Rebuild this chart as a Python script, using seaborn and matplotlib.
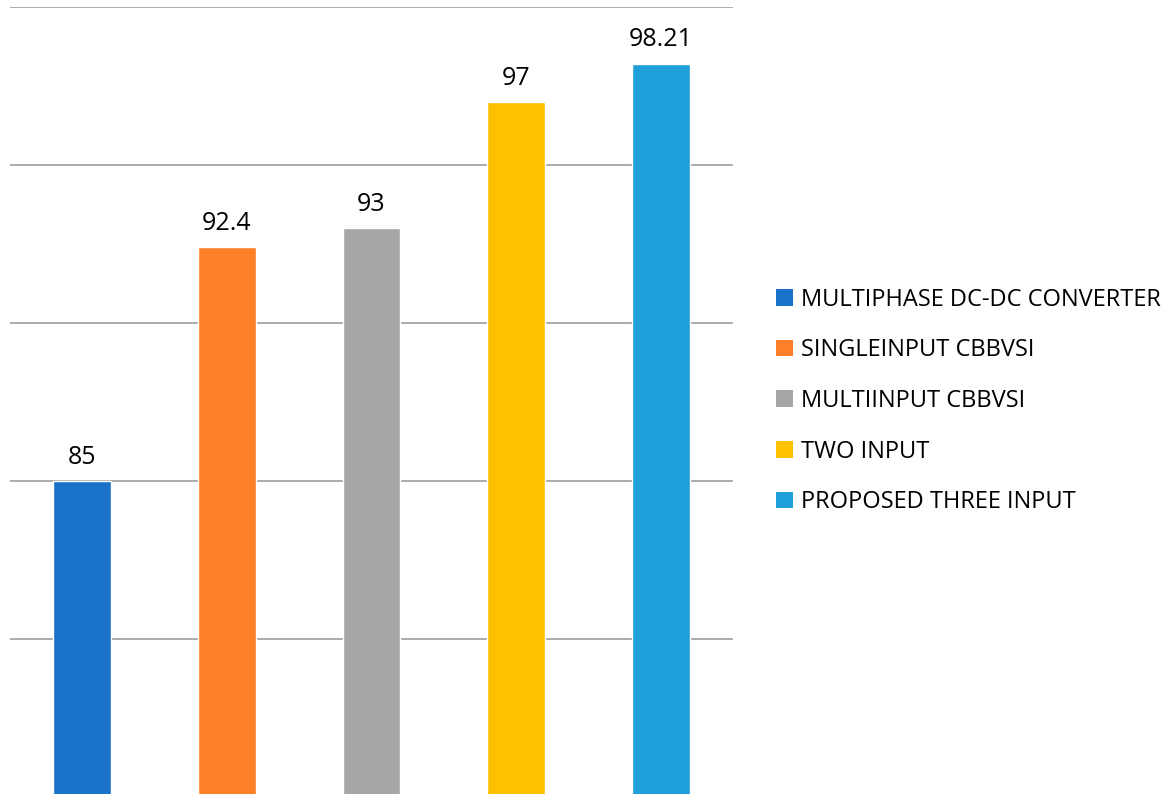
import matplotlib
matplotlib.use("Agg")
import matplotlib.pyplot as plt
import seaborn as sns
import pandas as pd
from matplotlib.patches import Patch

categories = [
    "MULTIPHASE DC-DC CONVERTER",
    "SINGLEINPUT CBBVSI",
    "MULTIINPUT CBBVSI",
    "TWO INPUT",
    "PROPOSED THREE INPUT",
]
efficiency = [85, 92.4, 93, 97, 98.21]
value_labels = ["85", "92.4", "93", "97", "98.21"]
colors = ["#1A73C8", "#FD7F27", "#A6A6A6", "#FFC000", "#1F9FDA"]

sns.set_theme(style="white")
plt.rcParams["font.family"] = ["Open Sans", "DejaVu Sans"]
plt.rcParams["text.color"] = "black"

df = pd.DataFrame({"system": categories, "efficiency": efficiency})

fig = plt.figure(figsize=(11.69, 7.94), dpi=100)
ax = fig.add_axes([10 / 1169, -3 / 794, 723 / 1169, 790 / 794])

sns.barplot(data=df, x="system", y="efficiency", hue="system",
            palette=colors, width=0.4, legend=False, ax=ax,
            saturation=1, zorder=3)

ax.set_ylim(75, 100)
ax.set_xlim(-0.5, 4.5)
ax.set_yticks([75, 80, 85, 90, 95, 100])
ax.yaxis.grid(True, color="#ABABAB", linewidth=1.4, zorder=0)
ax.set_axisbelow(True)
ax.tick_params(left=False, bottom=False, labelleft=False, labelbottom=False)
ax.set_xlabel("")
ax.set_ylabel("")
for s in ax.spines.values():
    s.set_visible(False)

# one container per hue level, in category order
for i, cont in enumerate(ax.containers):
    ax.bar_label(cont, labels=[value_labels[i]],
                 padding=8, fontsize=18, color="black")

handles = [Patch(facecolor=c, edgecolor="none") for c in colors]
fig.legend(handles, categories, loc="center left",
           bbox_to_anchor=(776 / 1169, 1 - 401 / 794), frameon=False,
           fontsize=17, handlelength=0.7, handleheight=0.7,
           handletextpad=0.34, labelspacing=1.13, borderpad=0,
           borderaxespad=0, labelcolor="black")

fig.savefig("out.png", dpi=100)
